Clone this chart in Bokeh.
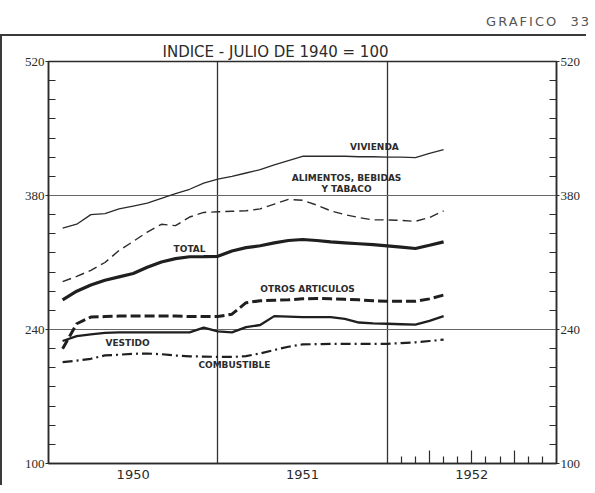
from bokeh.plotting import figure
from bokeh.models import FixedTicker, LinearAxis, Range1d, Div, CustomJSTickFormatter
from bokeh.layouts import column
from bokeh.embed import file_html
from bokeh.resources import INLINE
from bokeh.core.properties import value

# ---------------- data (monthly index, July 1940 = 100) ----------------
years = [1950] * 12 + [1951] * 12 + [1952] * 4
month_nums = list(range(1, 13)) * 2 + [1, 2, 3, 4]

vivienda = [346, 350, 360, 361, 366, 369, 372, 377, 382, 386.5, 393, 397,
            400, 403.5, 407, 412, 416.5, 421, 421, 421, 421, 420.5, 420.5, 420,
            420, 419.5, 424, 428]
alimentos = [290, 295.5, 301.8, 310, 322.5, 332, 341.8, 349.9, 348.5, 357.5, 362.3, 363,
             363.5, 364, 366, 371, 376, 375, 370, 364, 360, 357, 354.5, 354.5,
             354, 353, 357, 364]
total = [271, 280, 286.5, 291.5, 295, 298.5, 305, 310.5, 314, 316, 316.2, 316.5,
         322, 325.5, 327.5, 330.5, 333, 334, 333, 331.6, 330.6, 329.6, 328.6, 327.4,
         326, 324.6, 328, 331.5]
otros = [220, 246, 253, 253.5, 254, 254, 254, 254, 254, 253.5, 253.5, 253.5,
         256, 268, 270, 270.5, 271, 272, 272.5, 272, 271.5, 271, 270, 269.5,
         269.5, 269.5, 272, 276]
vestido = [228, 233, 235, 236.5, 237, 237, 237, 237, 237, 237, 242, 238,
           237, 242.4, 244.7, 254, 253.5, 253, 253, 253, 251, 247.3, 246.5, 246,
           245.5, 245, 249, 254]
combustible = [206, 207.4, 209.4, 212.9, 213.7, 214.6, 214.9, 214.2, 212.8, 212, 211.7, 211.4,
               211.3, 212.2, 215, 218.6, 222, 224.4, 224.7, 225, 225, 225, 225, 225,
               225.8, 226.6, 228, 229.4]

year_labels = ["1950", "1951", "1952"]
y_major = [100, 240, 380, 520]

x = [yr + m / 12 for yr, m in zip(years, month_nums)]

INK = "#2b2b2b"
FONT_NUM = "Liberation Sans Narrow"

p = figure(width=586, height=451,
           x_range=Range1d(1950, 1953), y_range=Range1d(100, 520),
           output_backend="svg", toolbar_location=None,
           min_border_left=46, min_border_right=32,
           min_border_top=25, min_border_bottom=24,
           title="INDICE - JULIO DE 1940 = 100",
           background_fill_color="white", border_fill_color="white")

p.styles = {"border-top": "2px solid #3a3a3a", "border-left": "2px solid #3a3a3a"}

p.title.align = "left"
p.title.offset = 114
p.title.standoff = 2
p.title.text_font = "DejaVu Sans"
p.title.text_font_size = "15px"
p.title.text_font_style = "normal"
p.title.text_color = INK

p.outline_line_color = INK
p.outline_line_width = 1.5

# grid: vertical year separators, horizontal reference lines
p.xgrid.ticker = FixedTicker(ticks=[1951, 1952])
p.xgrid.grid_line_color = "#333333"
p.xgrid.grid_line_width = 1.3
p.ygrid.ticker = FixedTicker(ticks=[240, 380])
p.ygrid.grid_line_color = "#666666"
p.ygrid.grid_line_width = 1

# bottom axis 1: monthly ticks of 1952 (inside)
xa = p.xaxis[0]
xa.ticker = FixedTicker(ticks=[1952.25, 1952.5, 1952.75],
                        minor_ticks=[1952 + k / 12 for k in (1, 2, 4, 5, 7, 8, 10, 11)])
xa.formatter = CustomJSTickFormatter(code="return ''")
xa.major_tick_in = 13
xa.major_tick_out = 0
xa.minor_tick_in = 7
xa.minor_tick_out = 0
xa.major_tick_line_color = INK
xa.minor_tick_line_color = INK
xa.major_tick_line_width = 1.2
xa.minor_tick_line_width = 1.2
xa.major_label_text_font_size = "1px"
xa.major_label_standoff = 0
xa.axis_line_color = INK
xa.axis_line_width = 1.5

# bottom axis 2: year labels
ya_lab = LinearAxis(ticker=FixedTicker(ticks=[1950.5, 1951.5, 1952.5]),
                    formatter=CustomJSTickFormatter(
                        args=dict(labels=year_labels),
                        code="return labels[Math.floor(tick) - 1950]"))
ya_lab.axis_line_color = None
ya_lab.major_tick_line_color = None
ya_lab.minor_tick_line_color = None
ya_lab.major_tick_in = 0
ya_lab.major_tick_out = 0
ya_lab.major_label_standoff = 6
ya_lab.major_label_text_font = "DejaVu Sans"
ya_lab.major_label_text_font_size = "13px"
ya_lab.major_label_text_color = INK
p.add_layout(ya_lab, "below")

# y axes left and right
def style_y(ax):
    ax.ticker = FixedTicker(ticks=y_major,
                            minor_ticks=[v for v in range(120, 520, 20) if v not in y_major])
    ax.major_tick_in = 0
    ax.major_tick_out = 3
    ax.minor_tick_in = 7
    ax.minor_tick_out = 0
    ax.major_tick_line_color = INK
    ax.minor_tick_line_color = INK
    ax.minor_tick_line_width = 1.2
    ax.axis_line_color = INK
    ax.axis_line_width = 1.5
    ax.major_label_standoff = 1
    ax.major_label_text_font = FONT_NUM
    ax.major_label_text_font_size = "13px"
    ax.major_label_text_color = INK

style_y(p.yaxis[0])
ry = LinearAxis()
style_y(ry)
p.add_layout(ry, "right")

# series
p.line(x, vivienda, line_color=INK, line_width=1.3)
p.line(x, alimentos, line_color=INK, line_width=1.4, line_dash="9 5")
p.line(x, total, line_color="#1f1f1f", line_width=3.2)
p.line(x, otros, line_color="#1f1f1f", line_width=3.0, line_dash="10 4")
p.line(x, vestido, line_color="#1f1f1f", line_width=2.3)
p.line(x, combustible, line_color="#1f1f1f", line_width=2.2, line_dash="10 4 2 4")

# series labels
lab_kw = dict(text_font=value("DejaVu Sans"), text_font_size="9px",
              text_font_style="bold", text_color=INK,
              text_align="center", text_baseline="middle")
p.text(x=[1951.925], y=[430.3], text=["VIVIENDA"], **lab_kw)
p.text(x=[1951.76], y=[398.2], text=["ALIMENTOS, BEBIDAS"], **lab_kw)
p.text(x=[1951.76], y=[386.7], text=["Y TABACO"], **lab_kw)
p.text(x=[1950.833], y=[324.5], text=["TOTAL"], **lab_kw)
p.text(x=[1951.53], y=[282.3], text=["OTROS ARTICULOS"], **lab_kw)
p.text(x=[1950.467], y=[226], text=["VESTIDO"], **lab_kw)
p.text(x=[1951.098], y=[203.2], text=["COMBUSTIBLE"], **lab_kw)

header = Div(text='<div style="width:586px;box-sizing:border-box;padding-top:8px;padding-right:0px;'
                  'text-align:right;font-family:\'DejaVu Sans\';'
                  'font-size:13px;letter-spacing:2px;color:#555;">GRAFICO&nbsp;&nbsp;33</div>',
             width=586, height=24)

layout = column(header, p)
open("out.html", "w").write(file_html(layout, INLINE))
